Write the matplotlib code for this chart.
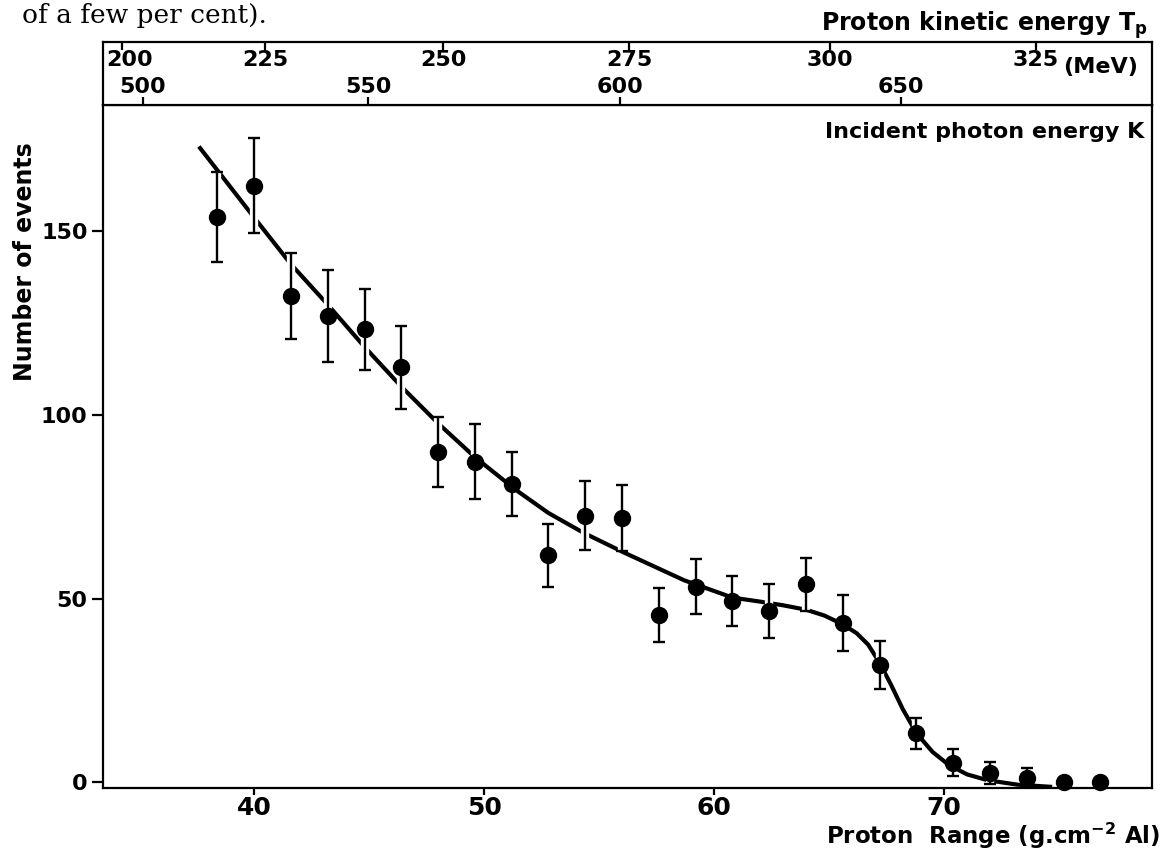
import numpy as np
from matplotlib import pyplot as plt
from matplotlib import patheffects as pe

# measured points: proton range (g.cm-2 Al), number of events, statistical error
proton_range = [38.4, 40.0, 41.6, 43.2, 44.8, 46.4, 48.0, 49.6, 51.2, 52.8, 54.4, 56.0, 57.6,
                59.2, 60.8, 62.4, 64.0, 65.6, 67.2, 68.8, 70.4, 72.0, 73.6, 75.2, 76.8]
events = [153.8, 162.3, 132.3, 126.8, 123.3, 112.9, 90.0, 87.3, 81.3, 61.8, 72.6, 72.0, 45.6,
          53.3, 49.4, 46.6, 53.9, 43.4, 32.0, 13.4, 5.4, 2.6, 1.3, 0.0, 0.0]
errors = [12.3, 12.9, 11.7, 12.5, 11.0, 11.3, 9.5, 10.2, 8.7, 8.5, 9.4, 8.9, 7.4,
          7.5, 6.8, 7.4, 7.2, 7.5, 6.5, 4.2, 3.6, 2.9, 2.6, 0.0, 0.0]

# smooth curve through the points
curve_range = [37.6, 39.9, 41.6, 43.2, 44.8, 46.4, 48.0, 49.6, 51.4, 52.8, 54.3, 56.1, 58.7,
               60.8, 62.0, 63.0, 64.0, 64.8, 65.6, 66.2, 66.7, 67.2, 67.7, 68.2, 68.8,
               69.5, 70.2, 71.0, 71.9, 73.2, 74.7]
curve_events = [173.0, 154.5, 141.0, 130.0, 118.5, 107.7, 97.7, 88.5, 79.5, 73.3, 68.0, 62.5, 55.0,
                50.3, 49.2, 48.2, 47.0, 45.4, 43.0, 40.6, 37.5, 32.5, 26.5, 20.0, 13.4,
                8.3, 4.8, 2.2, 0.6, -0.6, -1.2]

# upper scales, tick positions read on the range axis
tp_labels = ['200', '225', '250', '275', '300', '325']
tp_range = [34.25, 40.48, 48.23, 56.32, 65.04, 74.0]
k_labels = ['500', '550', '600', '650']
k_range = [35.17, 44.96, 55.91, 68.13]

x_ticks = [40, 50, 60, 70]
y_ticks = [0, 50, 100, 150]

W, H = 1162, 852
XLIM = (33.43, 79.04)
YLIM = (-1.5, 184.3)


def fx(px):
    return px / W


def fy(py):
    return 1 - py / H


#---------------------------- FIGURE ----------------------------
plt.rcParams['font.family'] = ['DejaVu Sans']
plt.rcParams['font.weight'] = 'bold'
fig = plt.figure(figsize=(W / 100, H / 100), dpi=100, facecolor='white')

left, right = fx(103), fx(1152)
ax = fig.add_axes([left, fy(788), right - left, fy(105) - fy(788)])
band = fig.add_axes([left, fy(105), right - left, fy(41.7) - fy(105)])

for a in (ax, band):
    for s in a.spines.values():
        s.set_linewidth(1.6)
    a.set_xlim(*XLIM)

# main panel
ax.set_ylim(*YLIM)
ax.plot(curve_range, curve_events, color='black', lw=3, solid_capstyle='butt', zorder=2)

x = np.array(proton_range)
y = np.array(events)
e = np.array(errors)
has_err = e > 0
eb = ax.errorbar(x[has_err], y[has_err], yerr=e[has_err], fmt='none', ecolor='black',
                 elinewidth=1.7, capsize=4, capthick=1.7, zorder=3)
eb[2][0].set_path_effects([pe.Stroke(linewidth=6, foreground='white'), pe.Normal()])
ax.plot(x, y, 'o', color='black', ms=11.5, zorder=4, clip_on=False)

ax.set_xticks(x_ticks)
ax.set_yticks(y_ticks)
ax.tick_params(axis='x', direction='out', length=5, width=1.6, labelsize=18, pad=1)
ax.tick_params(axis='y', direction='out', length=8, width=1.6, labelsize=16, pad=3)

fig.text(fx(25), fy(262), 'Number of events', rotation=90, fontsize=17,
         ha='center', va='center')
fig.text(fx(1160), fy(836), 'Proton  Range (g.cm$^{\\mathbf{-2}}$ Al)', fontsize=16.5,
         ha='right', va='center')
ax.text(0.993, 0.975, 'Incident photon energy K', transform=ax.transAxes, fontsize=16,
        ha='right', va='top')

# energy scales band
band.set_yticks([])
band.set_xticks(tp_range)
band.set_xticklabels([])
band.tick_params(axis='x', which='major', top=True, bottom=False, direction='in',
                 length=6, width=1.6)
band.set_xticks(k_range, minor=True)
band.tick_params(axis='x', which='minor', top=False, bottom=True, direction='in',
                 length=6, width=1.6)
band.tick_params(axis='x', which='minor', labelbottom=False)

trans = band.get_xaxis_transform()
for pos, lab in zip(tp_range, tp_labels):
    if pos - 1.0 < XLIM[0]:
        band.text(XLIM[0] + 0.15, 0.71, lab, transform=trans, fontsize=16,
                  ha='left', va='center')
    else:
        band.text(pos, 0.71, lab, transform=trans, fontsize=16, ha='center', va='center')
for pos, lab in zip(k_range, k_labels):
    band.text(pos, 0.29, lab, transform=trans, fontsize=16, ha='center', va='center')

band.text(fx(1101 - 103) / (right - left), 0.6, '(MeV)', transform=band.transAxes,
          fontsize=16, ha='center', va='center')
fig.text(fx(1148), fy(25), 'Proton kinetic energy T$_{\\mathbf{p}}$', fontsize=17,
         ha='right', va='center')

fig.text(fx(22), fy(16), 'of a few per cent).', family='DejaVu Serif', weight='normal',
         fontsize=19, ha='left', va='center')

fig.savefig('out.png', dpi=100, facecolor='white')
